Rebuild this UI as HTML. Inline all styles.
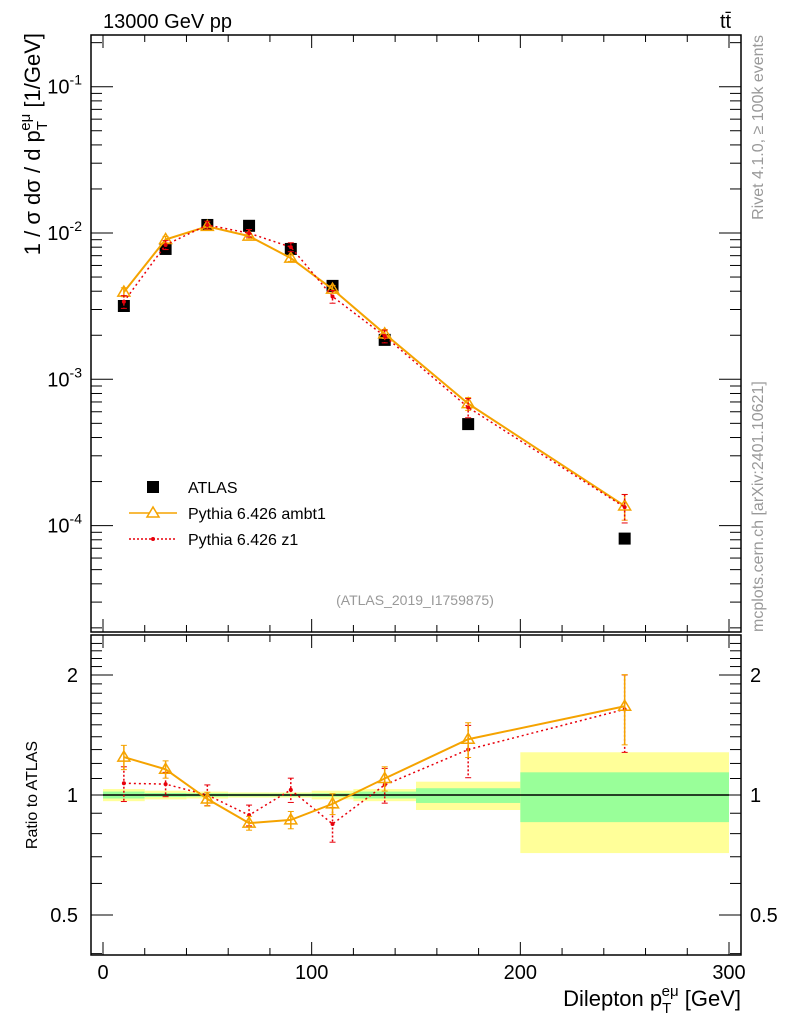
<!DOCTYPE html>
<html><head><meta charset="utf-8"><style>
body{margin:0;background:#fff}
svg{display:block;font-family:"Liberation Sans",sans-serif}
</style></head><body>
<svg id="c" width="786" height="1024" viewBox="0 0 786 1024">
<g id="g"></g>
</svg>
<script>
const xCenters=[10,30,50,70,90,110,135,175,250];
const binLo=[0,20,40,60,80,100,120,150,200];
const binHi=[20,40,60,80,100,120,150,200,300];
const atlas=[3.17e-3,7.78e-3,1.135e-2,1.12e-2,7.78e-3,4.35e-3,1.86e-3,4.94e-4,8.15e-5];
const ratioAmbt1=[1.245,1.16,0.977,0.85,0.866,0.95,1.10,1.38,1.67];
const errAmbt1=[0.07,0.05,0.04,0.04,0.05,0.06,0.07,0.1,0.2];
const ratioZ1=[1.07,1.065,1.0,0.89,1.03,0.846,1.06,1.3,1.64];
const errZ1=[0.1,0.07,0.06,0.06,0.07,0.1,0.1,0.15,0.22];
const bandYellowLo=[0.965,0.975,0.98,0.985,0.985,0.975,0.965,0.917,0.715];
const bandYellowHi=[1.035,1.025,1.02,1.015,1.015,1.025,1.035,1.08,1.28];
const bandGreenLo=[0.98,0.988,0.99,0.992,0.992,0.99,0.98,0.955,0.855];
const bandGreenHi=[1.02,1.012,1.01,1.008,1.008,1.01,1.02,1.04,1.14];
const xTicks=[0,100,200,300];
const yTopTicks=[-1,-2,-3,-4];
const ratioTicks=[0.5,1,2];

const NS="http://www.w3.org/2000/svg";
const g=document.getElementById('g');
function el(t,a,p){const e=document.createElementNS(NS,t);for(const k in a)e.setAttribute(k,a[k]);(p||g).appendChild(e);return e;}
const L=91,R=741,T1=35,B1=632,T2=635,B2=955;
const X=v=>103+(729-103)*v/300;
const Y1=v=>233-146.3*(Math.log10(v)+2);
const Y2=r=>795-120*Math.log2(r);

for(let i=0;i<binLo.length;i++){
  let r=el('rect',{x:X(binLo[i]),y:Y2(bandYellowHi[i]),width:X(binHi[i])-X(binLo[i]),height:Y2(bandYellowLo[i])-Y2(bandYellowHi[i]),fill:'#ffff99'});
  
  
  let r2=el('rect',{x:X(binLo[i]),y:Y2(bandGreenHi[i]),width:X(binHi[i])-X(binLo[i]),height:Y2(bandGreenLo[i])-Y2(bandGreenHi[i]),fill:'#99ff99'});
  
  
}
el('line',{x1:X(0),x2:X(300),y1:Y2(1),y2:Y2(1),stroke:'#000','stroke-width':1.5});

for(const [t,b] of [[T1,B1],[T2,B2]]){
  let f=el('rect',{x:L,y:t,width:R-L,height:b-t,fill:'none',stroke:'#000','stroke-width':1.5});
  
  
  for(let v=0;v<=300;v+=20){const maj=v%100==0;const len=maj?13:7;
    el('line',{x1:X(v),x2:X(v),y1:t,y2:t+len,stroke:'#000'});
    el('line',{x1:X(v),x2:X(v),y1:b,y2:b-len,stroke:'#000'});}
}
for(let d=-5;d<=-1;d++)for(let m=1;m<10;m++){const v=m*Math.pow(10,d);const y=Y1(v);if(y<T1||y>B1)continue;const len=m==1?22:11;
  el('line',{x1:L,x2:L+len,y1:y,y2:y,stroke:'#000'});el('line',{x1:R,x2:R-len,y1:y,y2:y,stroke:'#000'});}
yTopTicks.forEach(d=>{const t=el('text',{x:82,y:Y1(Math.pow(10,d))+7,'font-size':20,'text-anchor':'end'});t.innerHTML='10<tspan dy="-9" font-size="14">'+d+'</tspan>';
  
  });
for(let r=0.4;r<=2.5;r+=0.1){const y=Y2(r);if(y<T2||y>B2)continue;const maj=[0.5,1,2].some(q=>Math.abs(q-r)<1e-6);const len=maj?22:11;
  el('line',{x1:L,x2:L+len,y1:y,y2:y,stroke:'#000'});el('line',{x1:R,x2:R-len,y1:y,y2:y,stroke:'#000'});}
ratioTicks.forEach(r=>{
  let t=el('text',{x:78,y:Y2(r)+7,'font-size':20,'text-anchor':'end'});t.textContent=String(r);
  
  
  let t2=el('text',{x:750,y:Y2(r)+7,'font-size':20});t2.textContent=String(r);
  
  });
xTicks.forEach(v=>{const t=el('text',{x:X(v),y:979,'font-size':20,'text-anchor':'middle'});t.textContent=String(v);
  
  });

const ambt1=atlas.map((a,i)=>a*ratioAmbt1[i]);
const z1=atlas.map((a,i)=>a*ratioZ1[i]);
function series(vals,errs,Y,color,dash,marker,name){
  let pts=xCenters.map((x,i)=>X(x)+','+Y(vals[i])).join(' ');
  let pl=el('polyline',{points:pts,fill:'none',stroke:color,'stroke-width':dash?1.5:2,'stroke-dasharray':dash?'2,3':''});
  
  
  xCenters.forEach((x,i)=>{
    const hi=Y(vals[i]*(1+errs[i])),lo=Y(vals[i]*(1-errs[i]));
    el('line',{x1:X(x),x2:X(x),y1:hi,y2:lo,stroke:color,'stroke-width':1.5,'stroke-dasharray':dash?'2,2':''});
    el('line',{x1:X(x)-3,x2:X(x)+3,y1:hi,y2:hi,stroke:color});el('line',{x1:X(x)-3,x2:X(x)+3,y1:lo,y2:lo,stroke:color});
    const cx=X(x),cy=Y(vals[i]);let m;
    if(marker=='tri')m=el('polygon',{points:`${cx},${cy-6} ${cx-6},${cy+4} ${cx+6},${cy+4}`,fill:'none',stroke:color,'stroke-width':1.5});
    else m=el('circle',{cx:cx,cy:cy,r:2,fill:color});
    
    
  });
}
xCenters.forEach((x,i)=>{const r=el('rect',{x:X(x)-6,y:Y1(atlas[i])-6,width:12,height:12,fill:'#000'});
  
  });
series(ambt1,errAmbt1,Y1,'#f5a300',false,'tri','ambt1');
series(z1,errZ1,Y1,'#e8000b',true,'dot','z1');
series(ratioZ1,errZ1,Y2,'#e8000b',true,'dot','z1-ratio');
series(ratioAmbt1,errAmbt1,Y2,'#f5a300',false,'tri','ambt1-ratio');
</script>
<svg width="786" height="1024" style="position:absolute;left:0;top:0">
<g font-family="Liberation Sans, sans-serif">
<text x="103" y="28" font-size="20">13000 GeV pp</text>
<text x="720" y="28" font-size="20">tt̄</text>
<text transform="translate(763,35) rotate(-90)" text-anchor="end" font-size="16" fill="#999">Rivet 4.1.0, ≥ 100k events</text>
<text transform="translate(763,632) rotate(-90)" font-size="16" fill="#999">mcplots.cern.ch [arXiv:2401.10621]</text>
<text transform="translate(40,33) rotate(-90)" text-anchor="end" font-size="22">1 / σ  dσ / d p<tspan font-size="15" dy="7">T</tspan><tspan font-size="15" dy="-17" dx="-8">eμ</tspan><tspan dy="10"> [1/GeV]</tspan></text>
<text transform="translate(37,795) rotate(-90)" text-anchor="middle" font-size="16">Ratio to ATLAS</text>
<text x="741" y="1006" text-anchor="end" font-size="22">Dilepton p<tspan font-size="15" dy="7">T</tspan><tspan font-size="15" dy="-17" dx="-8">eμ</tspan><tspan dy="10">  [GeV]</tspan></text>
<text x="415" y="605" text-anchor="middle" font-size="14" fill="#999">(ATLAS_2019_I1759875)</text>
<g>
<rect x="147" y="481" width="12" height="12" fill="#000"/>
<text x="188" y="493" font-size="16">ATLAS</text>
<line x1="129" x2="177" y1="513" y2="513" stroke="#f5a300" stroke-width="1.5"/>
<polygon points="153,507 147,517 159,517" fill="#fff" stroke="#f5a300" stroke-width="1.5"/>
<text x="188" y="519" font-size="16">Pythia 6.426 ambt1</text>
<line x1="129" x2="177" y1="539" y2="539" stroke="#e8000b" stroke-width="1.5" stroke-dasharray="2,2"/>
<circle cx="153" cy="539" r="2" fill="#e8000b"/>
<text x="188" y="545" font-size="16">Pythia 6.426 z1</text>
</g>
</g>
</svg>
</body></html>
